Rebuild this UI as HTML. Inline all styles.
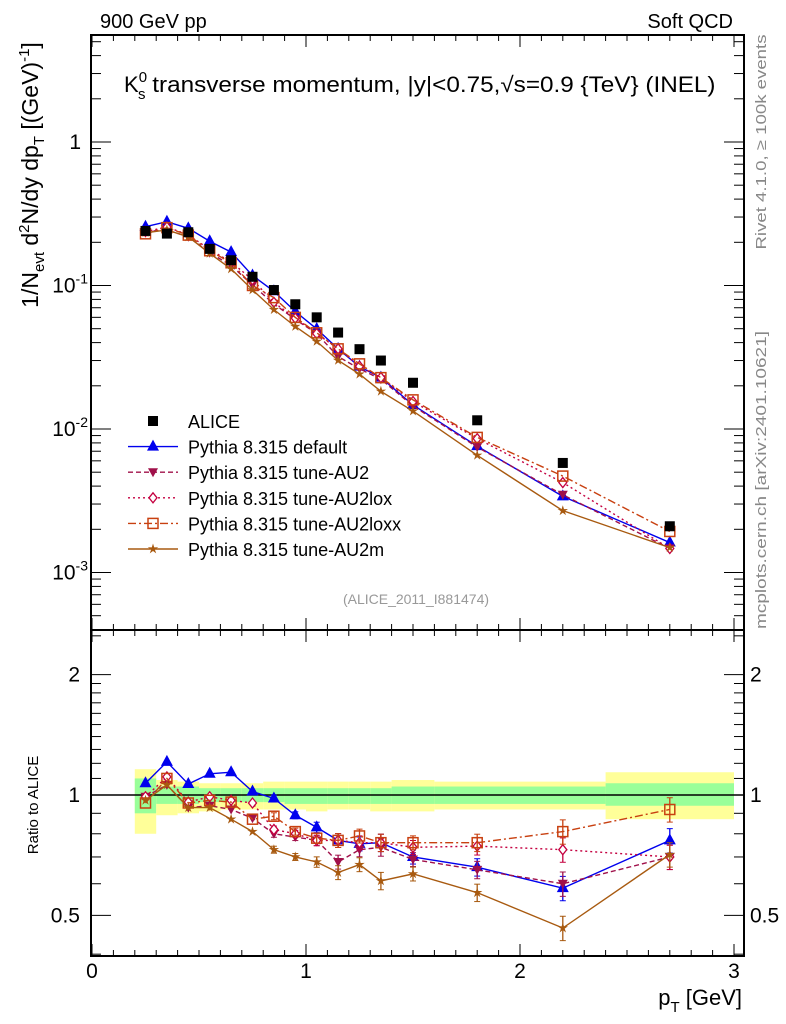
<!DOCTYPE html>
<html><head><meta charset="utf-8"><style>
body{margin:0;background:#fff;}
svg{display:block;font-family:"Liberation Sans",sans-serif;}
</style></head><body>
<svg id="c" width="786" height="1024" viewBox="0 0 786 1024">
<g id="bands"></g>
<g id="axes"></g>
<g id="series"></g>
<text x="100" y="28" font-size="20">900 GeV pp</text>
<text x="733" y="28" font-size="20" text-anchor="end">Soft QCD</text>
<text x="124" y="92" font-size="22">K<tspan font-size="15" dy="-10">0</tspan><tspan font-size="15" dx="-9" dy="17">s</tspan><tspan dy="-7" textLength="570" lengthAdjust="spacingAndGlyphs"> transverse momentum, |y|&lt;0.75,√s=0.9 {TeV} (INEL)</tspan></text>
<text transform="translate(38,175) rotate(-90)" font-size="23" text-anchor="middle">1/N<tspan font-size="15" dy="6">evt</tspan><tspan dy="-6">  d</tspan><tspan font-size="15" dy="-9">2</tspan><tspan dy="9">N/dy dp</tspan><tspan font-size="15" dy="6">T</tspan><tspan dy="-6"> [(GeV)</tspan><tspan font-size="15" dy="-9">-1</tspan><tspan dy="9">]</tspan></text>
<text transform="translate(38,805) rotate(-90)" font-size="15" text-anchor="middle">Ratio to ALICE</text>
<text x="742" y="1005" font-size="22" text-anchor="end">p<tspan font-size="15" dy="7">T</tspan><tspan dy="-7"> [GeV]</tspan></text>
<text transform="translate(766,142) rotate(-90)" font-size="15" fill="#888" text-anchor="middle" textLength="215" lengthAdjust="spacingAndGlyphs">Rivet 4.1.0, ≥ 100k events</text>
<text transform="translate(766,480) rotate(-90)" font-size="15" fill="#888" text-anchor="middle" textLength="298" lengthAdjust="spacingAndGlyphs">mcplots.cern.ch [arXiv:2401.10621]</text>
<text x="416" y="604" font-size="14" fill="#999" text-anchor="middle">(ALICE_2011_I881474)</text>
<g id="legend"></g>
</svg>
<script>
const pt=[0.25,0.35,0.45,0.55,0.65,0.75,0.85,0.95,1.05,1.15,1.25,1.35,1.5,1.8,2.2,2.7];
const alice=[0.24,0.23,0.235,0.18,0.15,0.115,0.093,0.074,0.060,0.047,0.036,0.030,0.021,0.0115,0.0058,0.0021];
const rDefault=[1.07,1.21,1.065,1.13,1.14,1.02,0.98,0.89,0.83,0.77,0.755,0.76,0.70,0.66,0.585,0.77];
const rAU2=[0.99,1.06,0.93,0.94,0.92,0.875,0.80,0.785,0.77,0.68,0.73,0.74,0.69,0.65,0.60,0.70];
const rAU2lox=[0.99,1.11,0.96,0.99,0.97,0.955,0.82,0.80,0.77,0.77,0.76,0.76,0.74,0.745,0.73,0.70];
const rAU2loxx=[0.955,1.10,0.955,0.97,0.96,0.87,0.885,0.81,0.78,0.77,0.79,0.76,0.76,0.76,0.81,0.92];
const rAU2m=[0.97,1.06,0.93,0.93,0.87,0.81,0.73,0.70,0.68,0.64,0.67,0.61,0.635,0.57,0.465,0.71];
const relErr=[0.01,0.01,0.01,0.01,0.01,0.015,0.02,0.02,0.03,0.04,0.04,0.05,0.04,0.05,0.07,0.07];
const binEdges=[0.2,0.3,0.4,0.5,0.6,0.7,0.8,0.9,1.0,1.1,1.2,1.3,1.4,1.6,2.0,2.4,3.0];
const yelHi=[1.16,1.09,1.08,1.07,1.07,1.07,1.08,1.08,1.08,1.08,1.08,1.08,1.09,1.08,1.08,1.14];
const yelLo=[0.80,0.89,0.90,0.91,0.92,0.92,0.92,0.92,0.91,0.92,0.92,0.91,0.91,0.92,0.92,0.87];
const grnHi=[1.10,1.05,1.05,1.04,1.04,1.04,1.04,1.04,1.04,1.04,1.04,1.04,1.05,1.05,1.05,1.07];
const grnLo=[0.90,0.95,0.95,0.96,0.96,0.96,0.96,0.95,0.95,0.95,0.95,0.95,0.95,0.95,0.95,0.94];
const NS="http://www.w3.org/2000/svg";
const X0=92,XS=214;
const sx=v=>X0+v*XS;
const sy=v=>142-143.5*Math.log10(v);
const sr=v=>795-400*Math.log10(v);
const L=91,R=744,T=35,MB=630,RB=956;
function mk(tag,at,parent){const e=document.createElementNS(NS,tag);for(const k in at)e.setAttribute(k,at[k]);(parent||document.getElementById('axes')).appendChild(e);return e;}
const bands=document.getElementById('bands');
for(let i=0;i<yelHi.length;i++){
 const x1=sx(binEdges[i]),x2=sx(binEdges[i+1]);
 const y=mk('rect',{x:x1,y:sr(yelHi[i]),width:x2-x1,height:sr(yelLo[i])-sr(yelHi[i]),fill:'#ffff99'},bands);
 
 
 const g=mk('rect',{x:x1,y:sr(grnHi[i]),width:x2-x1,height:sr(grnLo[i])-sr(grnHi[i]),fill:'#99ff99'},bands);
 
 
}
mk('line',{x1:L,x2:R,y1:sr(1),y2:sr(1),stroke:'#000','stroke-width':1.5});
mk('rect',{x:L,y:T,width:R-L,height:MB-T,fill:'none',stroke:'#000','stroke-width':2});
mk('rect',{x:L,y:MB,width:R-L,height:RB-MB,fill:'none',stroke:'#000','stroke-width':2});
for(let i=0;i<=30;i++){const v=i/10,x=sx(v);const big=i%10==0;
 const len=big?12:6;
 [[RB,-1],[MB,1],[MB,-1],[T,1]].forEach(([y0,d])=>mk('line',{x1:x,x2:x,y1:y0,y2:y0+d*len,stroke:'#000'}));
 if(big){const t=mk('text',{x:x,y:978,'font-size':21,'text-anchor':'middle'});t.textContent=String(v);}}
const decades=[-4,-3,-2,-1,0];
for(const d of decades){for(let m=1;m<10;m++){const v=m*Math.pow(10,d);const y=sy(v);if(y<T||y>MB)continue;
 const len=m==1?20:10;mk('line',{x1:L,x2:L+len,y1:y,y2:y,stroke:'#000'});mk('line',{x1:R,x2:R-len,y1:y,y2:y,stroke:'#000'});}}
const ylab=[['1',0],['10',-1],['10',-2],['10',-3]];
ylab.forEach(([b,e])=>{const y=sy(Math.pow(10,e))+7;const t=mk('text',{x:e==0?81:88,y:y,'font-size':21,'text-anchor':'end'});
 
 t.textContent=b;if(e!=0){const s=mk('tspan',{'font-size':14,dy:-9},t);s.textContent=String(e);}});
const rmaj=[0.5,1,2];const rmin=[0.4,0.6,0.7,0.8,0.9,1.1,1.2,1.3,1.4,1.5,1.6,1.7,1.8,1.9,2.5];
rmaj.forEach(v=>{const y=sr(v);mk('line',{x1:L,x2:L+20,y1:y,y2:y,stroke:'#000'});mk('line',{x1:R,x2:R-20,y1:y,y2:y,stroke:'#000'});
 const lab=String(v);
 const a=mk('text',{x:80,y:y+7,'font-size':21,'text-anchor':'end'});a.textContent=lab;
 const b=mk('text',{x:750,y:y+7,'font-size':21});b.textContent=lab;});
rmin.forEach(v=>{const y=sr(v);if(y<MB||y>RB)return;mk('line',{x1:L,x2:L+10,y1:y,y2:y,stroke:'#000'});mk('line',{x1:R,x2:R-10,y1:y,y2:y,stroke:'#000'});});
const ser=document.getElementById('series');
function marker(kind,x,y,col,g){
 let e;
 if(kind=='sq')e=mk('rect',{x:x-5,y:y-5,width:10,height:10,fill:'#000'},g);
 else if(kind=='tu')e=mk('polygon',{points:`${x},${y-7} ${x-6},${y+4} ${x+6},${y+4}`,fill:col},g);
 else if(kind=='td')e=mk('polygon',{points:`${x},${y+5} ${x-5},${y-4} ${x+5},${y-4}`,fill:col},g);
 else if(kind=='di')e=mk('polygon',{points:`${x},${y-5} ${x-4},${y} ${x},${y+5} ${x+4},${y}`,fill:'#fff',stroke:col,'stroke-width':1.3},g);
 else if(kind=='os')e=mk('rect',{x:x-5,y:y-5,width:10,height:10,fill:'none',stroke:col,'stroke-width':1.5},g);
 else {let p=[];for(let k=0;k<10;k++){const r=k%2?2:5.5,a=-Math.PI/2+k*Math.PI/5;p.push((x+r*Math.cos(a)).toFixed(1)+','+(y+r*Math.sin(a)).toFixed(1));}
  e=mk('polygon',{points:p.join(' '),fill:col},g);}
 
 
}
const models=[
 {name:'default',r:rDefault,col:'#0000ee',m:'tu',dash:'',lab:'Pythia 8.315 default'},
 {name:'au2',r:rAU2,col:'#a0104a',m:'td',dash:'5,3',lab:'Pythia 8.315 tune-AU2'},
 {name:'au2lox',r:rAU2lox,col:'#c40040',m:'di',dash:'2,3',lab:'Pythia 8.315 tune-AU2lox'},
 {name:'au2loxx',r:rAU2loxx,col:'#c84010',m:'os',dash:'8,3,2,3',lab:'Pythia 8.315 tune-AU2loxx'},
 {name:'au2m',r:rAU2m,col:'#a85a10',m:'st',dash:'',lab:'Pythia 8.315 tune-AU2m'}];
models.forEach(s=>{
 const g=mk('g',{},ser);
 
 
 const vals=pt.map((p,i)=>alice[i]*s.r[i]);
 mk('polyline',{points:pt.map((p,i)=>sx(p)+','+sy(vals[i])).join(' '),fill:'none',stroke:s.col,'stroke-width':1.4,'stroke-dasharray':s.dash},g);
 mk('polyline',{points:pt.map((p,i)=>sx(p)+','+sr(s.r[i])).join(' '),fill:'none',stroke:s.col,'stroke-width':1.4,'stroke-dasharray':s.dash},g);
 pt.forEach((p,i)=>{const x=sx(p);
  const e=relErr[i];
  if(e>0.015){mk('line',{x1:x,x2:x,y1:sr(s.r[i]*(1+e)),y2:sr(s.r[i]*(1-e)),stroke:s.col,'stroke-width':1.3},g);
   [1+e,1-e].forEach(f=>mk('line',{x1:x-3,x2:x+3,y1:sr(s.r[i]*f),y2:sr(s.r[i]*f),stroke:s.col},g));}
  marker(s.m,x,sy(vals[i]),s.col,g);marker(s.m,x,sr(s.r[i]),s.col,g);});
});
const ga=mk('g',{},ser);


pt.forEach((p,i)=>marker('sq',sx(p),sy(alice[i]),'#000',ga));
const lg=document.getElementById('legend');
const rows=[{lab:'ALICE',m:'sq',col:'#000',dash:null}].concat(models);
rows.forEach((s,i)=>{const y=421+i*25.6;
 const g=mk('g',{},lg);
 
 
 if(s.dash!==null)mk('line',{x1:128,x2:178,y1:y,y2:y,stroke:s.col,'stroke-width':1.4,'stroke-dasharray':s.dash},g);
 marker(s.m,153,y,s.col,g);
 const t=mk('text',{x:188,y:y+7,'font-size':18},g);t.textContent=s.lab;});
</script>
</body></html>
